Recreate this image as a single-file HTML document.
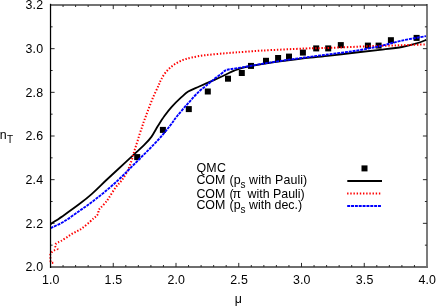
<!DOCTYPE html>
<html><head><meta charset="utf-8"><title>chart</title>
<style>
html,body{margin:0;padding:0;background:#fff;}
body{width:436px;height:306px;overflow:hidden;position:relative;font-family:"Liberation Sans",sans-serif;}
svg{position:absolute;left:0;top:0;will-change:transform;}
text{font-family:"Liberation Sans",sans-serif;fill:#000;}
</style></head><body>
<svg width="436" height="306" viewBox="0 0 436 306">
<rect width="436" height="306" fill="#fff"/>
<rect x="50" y="4" width="378" height="2" fill="#737373"/>
<rect x="426" y="4" width="2" height="264" fill="#7c7c7c"/>
<rect x="50" y="266" width="378" height="2" fill="#6e6e6e"/>
<rect x="426" y="4" width="1" height="2" fill="#444"/>
<path d="M63.05 267v-2.0M63.05 5v2.0M75.60 267v-2.0M75.60 5v2.0M88.15 267v-2.0M88.15 5v2.0M100.70 267v-2.0M100.70 5v2.0M113.25 267v-4.1M113.25 5v4.1M125.80 267v-2.0M125.80 5v2.0M138.35 267v-2.0M138.35 5v2.0M150.90 267v-2.0M150.90 5v2.0M163.45 267v-2.0M163.45 5v2.0M176.00 267v-4.1M176.00 5v4.1M188.55 267v-2.0M188.55 5v2.0M201.10 267v-2.0M201.10 5v2.0M213.65 267v-2.0M213.65 5v2.0M226.20 267v-2.0M226.20 5v2.0M238.75 267v-4.1M238.75 5v4.1M251.30 267v-2.0M251.30 5v2.0M263.85 267v-2.0M263.85 5v2.0M276.40 267v-2.0M276.40 5v2.0M288.95 267v-2.0M288.95 5v2.0M301.50 267v-4.1M301.50 5v4.1M314.05 267v-2.0M314.05 5v2.0M326.60 267v-2.0M326.60 5v2.0M339.15 267v-2.0M339.15 5v2.0M351.70 267v-2.0M351.70 5v2.0M364.25 267v-4.1M364.25 5v4.1M376.80 267v-2.0M376.80 5v2.0M389.35 267v-2.0M389.35 5v2.0M401.90 267v-2.0M401.90 5v2.0M414.45 267v-2.0M414.45 5v2.0M50.5 245.17h2.1M427 245.17h-2.1M50.5 223.33h4.1M427 223.33h-4.1M50.5 201.50h2.1M427 201.50h-2.1M50.5 179.67h4.1M427 179.67h-4.1M50.5 157.83h2.1M427 157.83h-2.1M50.5 136.00h4.1M427 136.00h-4.1M50.5 114.17h2.1M427 114.17h-2.1M50.5 92.33h4.1M427 92.33h-4.1M50.5 70.50h2.1M427 70.50h-2.1M50.5 48.67h4.1M427 48.67h-4.1M50.5 26.83h2.1M427 26.83h-2.1" stroke="#2a2a2a" stroke-width="1" fill="none"/>
<rect x="134.2" y="154.1" width="6.0" height="6.0" fill="#000"/>
<rect x="159.9" y="126.9" width="6.0" height="6.0" fill="#000"/>
<rect x="185.8" y="106.1" width="6.0" height="6.0" fill="#000"/>
<rect x="204.8" y="88.5" width="6.0" height="6.0" fill="#000"/>
<rect x="225.0" y="75.7" width="6.0" height="6.0" fill="#000"/>
<rect x="238.8" y="70.0" width="6.0" height="6.0" fill="#000"/>
<rect x="248.0" y="62.9" width="6.0" height="6.0" fill="#000"/>
<rect x="263.0" y="57.8" width="6.0" height="6.0" fill="#000"/>
<rect x="275.1" y="55.0" width="6.0" height="6.0" fill="#000"/>
<rect x="286.0" y="53.6" width="6.0" height="6.0" fill="#000"/>
<rect x="299.9" y="49.6" width="6.0" height="6.0" fill="#000"/>
<rect x="313.2" y="45.4" width="6.0" height="6.0" fill="#000"/>
<rect x="325.2" y="45.4" width="6.0" height="6.0" fill="#000"/>
<rect x="337.8" y="42.1" width="6.0" height="6.0" fill="#000"/>
<rect x="364.9" y="42.6" width="6.0" height="6.0" fill="#000"/>
<rect x="375.6" y="42.6" width="6.0" height="6.0" fill="#000"/>
<rect x="387.9" y="37.2" width="6.0" height="6.0" fill="#000"/>
<rect x="413.6" y="34.9" width="6.0" height="6.0" fill="#000"/>
<path d="M50.6 224.2C52.9 222.6 59.6 218.2 64.3 214.9C69.0 211.6 74.4 207.8 79.0 204.3C83.6 200.8 87.3 197.9 91.9 193.8C96.5 189.8 102.0 184.1 106.4 180.0C110.8 175.9 113.9 173.1 118.3 169.0C122.7 164.9 128.7 159.3 133.0 155.3C137.3 151.3 140.9 148.3 144.0 145.2C147.1 142.1 149.0 140.2 151.4 136.9C153.8 133.6 156.0 129.0 158.2 125.5C160.4 122.0 162.2 119.1 164.4 116.0C166.7 112.9 168.9 110.0 171.7 106.9C174.4 103.9 178.2 100.2 180.9 97.7C183.7 95.2 185.1 93.5 188.2 91.6C191.2 89.7 194.7 88.5 199.2 86.5C203.7 84.5 210.7 81.5 215.0 79.6C219.3 77.7 221.8 76.5 225.0 75.0C228.2 73.5 231.1 71.8 234.2 70.6C237.2 69.4 238.7 68.7 243.3 67.6C247.9 66.5 255.6 65.1 261.7 64.1C267.8 63.1 272.8 62.4 280.0 61.4C287.2 60.4 296.7 59.2 305.0 58.2C313.3 57.2 321.5 56.6 330.0 55.6C338.5 54.6 347.7 53.5 356.0 52.5C364.3 51.5 372.2 50.7 379.9 49.8C387.5 48.9 395.8 48.1 401.9 47.0C408.0 45.9 412.6 44.6 416.6 43.4C420.7 42.2 424.6 40.5 426.2 39.9" stroke="#000" stroke-width="1.8" fill="none" stroke-linejoin="round"/>
<path d="M53.3 262.7C52.9 262.7 51.4 263.3 50.9 262.5C50.4 261.7 50.5 259.4 50.4 258.0C50.3 256.6 50.1 255.1 50.4 254.1C50.7 253.1 51.3 252.7 52.0 252.0C52.7 251.3 53.8 250.7 54.7 250.2C55.6 249.7 57.4 249.6 57.5 249.0C57.6 248.4 55.8 247.4 55.4 246.6C55.0 245.8 55.0 245.1 55.4 244.4C55.8 243.7 57.0 242.9 57.9 242.4C58.8 241.9 59.4 242.1 60.7 241.3C62.1 240.5 64.2 239.0 66.0 237.8C67.8 236.7 69.4 235.5 71.2 234.4C73.0 233.3 74.9 232.4 76.7 231.4C78.5 230.4 80.1 229.8 82.2 228.2C84.3 226.6 87.6 223.8 89.6 222.1C91.6 220.4 93.0 218.9 94.2 217.9C95.4 216.9 95.8 216.7 96.5 215.9C97.2 215.1 98.0 214.3 98.3 213.3C98.6 212.3 98.2 211.0 98.6 210.1C99.0 209.2 99.6 208.9 100.6 207.8C101.6 206.7 103.4 204.9 104.8 203.3C106.2 201.7 106.9 200.9 108.7 198.2C110.5 195.5 113.5 190.3 115.7 187.3C117.9 184.3 120.0 182.7 122.0 180.0C124.0 177.3 126.0 174.0 127.5 170.9C129.0 167.8 130.1 164.8 131.2 161.7C132.3 158.6 133.0 155.6 133.9 152.5C134.8 149.4 135.9 146.4 136.8 143.3C137.8 140.2 138.7 137.1 139.6 134.2C140.5 131.3 141.6 128.4 142.4 126.0C143.2 123.6 143.5 122.4 144.4 120.0C145.3 117.6 146.2 115.1 147.6 111.5C149.0 107.9 150.8 102.8 152.6 98.5C154.4 94.2 157.2 88.5 158.6 85.4C160.0 82.3 159.8 82.0 161.0 79.8C162.2 77.6 163.9 74.4 166.0 72.0C168.1 69.6 170.6 67.2 173.3 65.2C176.1 63.2 179.4 61.5 182.5 60.2C185.6 58.9 188.0 58.3 191.7 57.5C195.4 56.7 199.9 55.9 204.5 55.3C209.1 54.7 214.1 54.3 219.2 53.8C224.3 53.3 227.9 53.0 235.0 52.5C242.1 52.0 250.0 51.3 261.7 50.6C273.4 49.9 293.6 49.0 305.0 48.5C316.4 48.0 319.2 48.3 330.0 47.9C340.8 47.5 358.3 46.6 370.0 46.2C381.7 45.8 390.8 45.6 400.0 45.3C409.2 45.0 421.1 44.5 425.3 44.4" stroke="#ff0000" stroke-width="2" stroke-dasharray="1.4 1.78" fill="none"/>
<path d="M50.6 228.2C52.9 227.0 59.6 224.1 64.3 221.3C69.0 218.5 74.4 214.4 79.0 211.2C83.6 208.0 87.6 205.2 91.9 202.0C96.2 198.8 100.3 195.6 104.7 191.9C109.1 188.2 114.2 183.8 118.3 180.0C122.4 176.2 125.7 172.7 129.4 169.0C133.1 165.3 136.7 161.7 140.4 158.0C144.1 154.3 147.7 150.8 151.4 147.0C155.1 143.2 159.2 138.8 162.4 135.1C165.6 131.4 168.1 128.2 170.6 125.0C173.1 121.8 174.3 119.6 177.2 116.0C180.1 112.4 184.5 107.3 188.2 103.2C191.9 99.1 195.8 94.5 199.2 91.3C202.6 88.1 206.0 85.9 208.4 83.9C210.8 81.9 211.6 81.1 213.7 79.4C215.8 77.7 219.0 75.4 221.0 73.9C223.0 72.4 224.1 71.1 225.6 70.3C227.1 69.5 227.2 69.7 230.2 69.2C233.1 68.7 238.1 68.1 243.3 67.2C248.6 66.3 255.6 64.9 261.7 63.9C267.8 62.9 272.8 62.1 280.0 61.0C287.2 59.9 296.7 58.6 305.0 57.5C313.3 56.4 321.5 55.3 330.0 54.2C338.5 53.1 347.7 52.1 356.0 50.7C364.3 49.4 372.2 47.8 379.9 46.1C387.5 44.4 394.2 42.3 401.9 40.6C409.6 38.9 422.0 36.9 426.0 36.1" stroke="#0000ff" stroke-width="1.9" stroke-dasharray="2.95 0.9" fill="none"/>
<rect x="49.9" y="3.8" width="1.25" height="264.2" fill="#000"/>
<text x="43.4" y="271.2" font-size="12.4" text-anchor="end" letter-spacing="0.25">2.0</text>
<text x="43.4" y="227.5" font-size="12.4" text-anchor="end" letter-spacing="0.25">2.2</text>
<text x="43.4" y="183.9" font-size="12.4" text-anchor="end" letter-spacing="0.25">2.4</text>
<text x="43.4" y="140.2" font-size="12.4" text-anchor="end" letter-spacing="0.25">2.6</text>
<text x="43.4" y="96.5" font-size="12.4" text-anchor="end" letter-spacing="0.25">2.8</text>
<text x="43.4" y="52.9" font-size="12.4" text-anchor="end" letter-spacing="0.25">3.0</text>
<text x="43.4" y="9.2" font-size="12.4" text-anchor="end" letter-spacing="0.25">3.2</text>
<text x="50.8" y="284" font-size="12.4" text-anchor="middle" letter-spacing="0.2">1.0</text>
<text x="113.5" y="284" font-size="12.4" text-anchor="middle" letter-spacing="0.2">1.5</text>
<text x="176.3" y="284" font-size="12.4" text-anchor="middle" letter-spacing="0.2">2.0</text>
<text x="239.1" y="284" font-size="12.4" text-anchor="middle" letter-spacing="0.2">2.5</text>
<text x="301.8" y="284" font-size="12.4" text-anchor="middle" letter-spacing="0.2">3.0</text>
<text x="364.6" y="284" font-size="12.4" text-anchor="middle" letter-spacing="0.2">3.5</text>
<text x="427.3" y="284" font-size="12.4" text-anchor="middle" letter-spacing="0.2">4.0</text>
<text x="-0.2" y="139" font-size="12.4">n<tspan font-size="10" dy="4" dx="0.2">T</tspan></text>
<text x="238.3" y="303.4" font-size="12.4" text-anchor="middle">μ</text>
<text x="196.4" y="172.3" font-size="12.4" letter-spacing="0.3">QMC</text>
<text y="184.1" font-size="12.4"><tspan x="196.4">COM</tspan><tspan x="229.5">(p</tspan><tspan font-size="10" dy="4.1" x="240.5">s</tspan><tspan dy="-4.1" x="249.1" letter-spacing="0.1">with Pauli)</tspan></text>
<text y="197.5" font-size="12.4"><tspan x="196.4">COM</tspan><tspan x="229.5">(</tspan><tspan x="232.6">π</tspan><tspan x="247.6">with Pauli)</tspan></text>
<text y="209.1" font-size="12.4"><tspan x="196.4">COM</tspan><tspan x="229.5">(p</tspan><tspan font-size="10" dy="4.1" x="240.5">s</tspan><tspan dy="-4.1" x="249.1">with dec.)</tspan></text>
<rect x="361.5" y="165.4" width="6" height="6" fill="#000"/>
<path d="M347.3 181H382" stroke="#000" stroke-width="1.9"/>
<path d="M347.1 193.6H380.4" stroke="#f00" stroke-width="2" stroke-dasharray="1.4 1.78"/>
<path d="M347.2 206H381.5" stroke="#00f" stroke-width="1.9" stroke-dasharray="2.95 0.9"/>
</svg></body></html>
